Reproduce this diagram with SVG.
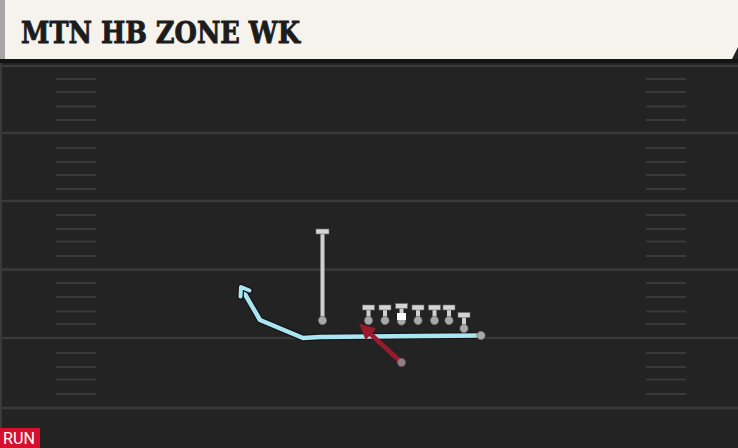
<svg xmlns="http://www.w3.org/2000/svg" width="738" height="448" viewBox="0 0 738 448">
<defs>
<style>
.yard{stroke:#3a3a3a;stroke-width:2.5}
.hash{stroke:#393939;stroke-width:2}
.bar{fill:#d4d4d4;stroke:#6a6a6a;stroke-width:0.6}
.stem{stroke:#d0d0d0;stroke-width:4}
.dot{fill:#a8a8a8;stroke:#5a5a5a;stroke-width:0.6}
.title{font-family:"DejaVu Serif",serif;font-weight:bold;font-size:29px;fill:#1c1c1c;stroke:#1c1c1c;stroke-width:0.9}
.run{font-family:Roboto,"Liberation Sans",sans-serif;font-size:16px;fill:#ffffff}
</style>
<marker id="redhead" viewBox="0 0 10 10" refX="6" refY="5" markerWidth="3.5" markerHeight="3.5" orient="auto" markerUnits="strokeWidth">
<path d="M0,0 L10,5 L0,10 z" fill="#9a1a2e"/>
</marker>
</defs>
<rect x="0" y="0" width="738" height="448" fill="#232323"/>
<rect x="0" y="60" width="2" height="388" fill="#3a3a3a"/>
<g id="field">
<g class="yard">
<line x1="0" y1="66" x2="738" y2="66"/>
<line x1="0" y1="133" x2="738" y2="133"/>
<line x1="0" y1="201" x2="738" y2="201"/>
<line x1="0" y1="269.5" x2="738" y2="269.5"/>
<line x1="0" y1="338" x2="738" y2="338"/>
<line x1="0" y1="408" x2="738" y2="408"/>
</g>
<g class="hash">
<path d="M56,79H96M56,92H96M56,106.5H96M56,120H96M56,148H96M56,162H96M56,175H96M56,189H96M56,215H96M56,229H96M56,241.5H96M56,256H96M56,283H96M56,297H96M56,311.5H96M56,324H96M56,353H96M56,367H96M56,379.5H96M56,394H96"/>
<path d="M646,79H686M646,92H686M646,106.5H686M646,120H686M646,148H686M646,162H686M646,175H686M646,189H686M646,215H686M646,229H686M646,241.5H686M646,256H686M646,283H686M646,297H686M646,311.5H686M646,324H686M646,353H686M646,367H686M646,379.5H686M646,394H686"/>
</g>
</g>
<g id="header">
<rect x="0" y="59" width="738" height="4" fill="#141414"/>
<polygon points="0,0 738,0 738,47 732,59 0,59" fill="#f5f3ec"/>
<rect x="0" y="0" width="5" height="59" fill="#a6a6a6"/>
<text class="title" x="21" y="43" textLength="279" lengthAdjust="spacingAndGlyphs">MTN HB ZONE WK</text>
</g>
<g id="connectors">
<polyline points="481,335.5 420,336 320,337 303,338 260,320 242,289" fill="none" stroke="#151515" stroke-width="7" stroke-linejoin="round" stroke-linecap="round"/>
<polyline points="481,335.5 420,336 320,337 303,338 260,320 242,289" fill="none" stroke="#a9e6f2" stroke-width="4.5" stroke-linejoin="round" stroke-linecap="round"/>
<polyline points="249.5,290.5 241,287 240.5,296.5" fill="none" stroke="#151515" stroke-width="6.5" stroke-linejoin="round" stroke-linecap="round"/>
<polyline points="249.5,290.5 241,287 240.5,296.5" fill="none" stroke="#a9e6f2" stroke-width="4" stroke-linejoin="round" stroke-linecap="round"/>
<line x1="401.5" y1="362.5" x2="364" y2="328" stroke="#9a1a2e" stroke-width="4.5" marker-end="url(#redhead)"/>
</g>
<g id="route-end"><circle cx="481" cy="335.5" r="4.2" class="dot"/></g>
<g id="rb"><circle cx="401.5" cy="362.5" r="4.2" fill="#8f7f82" stroke="#5a4a4d" stroke-width="0.6"/></g>
<g id="qb">
<line x1="322.5" y1="232" x2="322.5" y2="320" class="stem"/>
<rect x="316" y="229" width="13" height="5" class="bar"/>
<circle cx="322.5" cy="320.5" r="4.2" class="dot"/>
</g>
<g id="lt"><line x1="368.5" y1="308" x2="368.5" y2="320" class="stem"/><rect x="362.5" y="305" width="12" height="5" class="bar"/><circle cx="368.5" cy="320.5" r="4.2" class="dot"/></g>
<g id="lg"><line x1="385" y1="308" x2="385" y2="320" class="stem"/><rect x="379" y="305" width="12" height="5" class="bar"/><circle cx="385" cy="320.5" r="4.2" class="dot"/></g>
<g id="c"><line x1="401.5" y1="306" x2="401.5" y2="320" class="stem"/><rect x="395.5" y="303.5" width="12" height="5" class="bar"/><circle cx="401.5" cy="321" r="4.2" class="dot"/><rect x="397" y="313" width="9" height="7" fill="#ffffff"/></g>
<g id="rg"><line x1="418" y1="308" x2="418" y2="320" class="stem"/><rect x="412" y="305" width="12" height="5" class="bar"/><circle cx="418" cy="320.5" r="4.2" class="dot"/></g>
<g id="rt"><line x1="434.5" y1="308" x2="434.5" y2="320" class="stem"/><rect x="428.5" y="305" width="12" height="5" class="bar"/><circle cx="434.5" cy="320.5" r="4.2" class="dot"/></g>
<g id="te1"><line x1="449" y1="308" x2="449" y2="320" class="stem"/><rect x="443" y="305" width="12" height="5" class="bar"/><circle cx="449" cy="320.5" r="4.2" class="dot"/></g>
<g id="te2"><line x1="464" y1="315" x2="464" y2="328" class="stem"/><rect x="458" y="312.5" width="12" height="5" class="bar"/><circle cx="464" cy="328.5" r="4.2" class="dot"/></g>
<g id="badge">
<rect x="0" y="428" width="40" height="20" fill="#d4102c"/>
<text class="run" x="3" y="444" textLength="32" lengthAdjust="spacingAndGlyphs">RUN</text>
</g>
</svg>
